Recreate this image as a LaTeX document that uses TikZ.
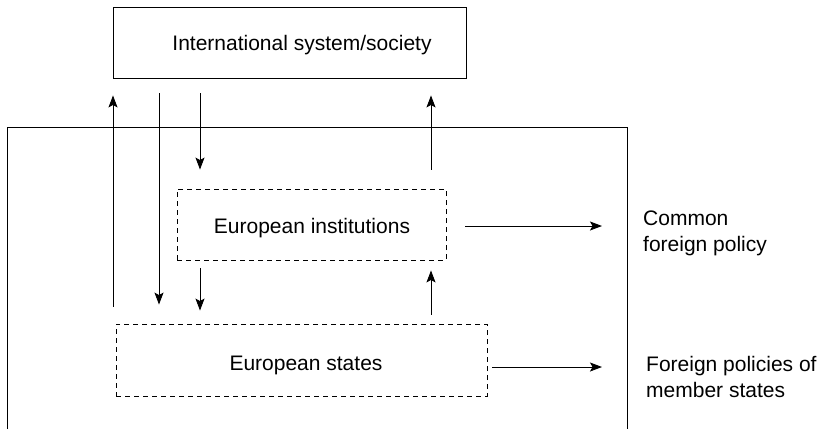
\documentclass[tikz,border=0pt]{standalone}
\usepackage{fontspec}
\setmainfont{Liberation Sans}
\usetikzlibrary{arrows.meta}
\tikzset{
  box/.style={draw, line width=0.9pt, inner sep=0pt},
  dbox/.style={draw, line width=0.9pt, inner sep=0pt, dash pattern=on 5pt off 4pt},
  lbl/.style={inner sep=0pt, font=\fontsize{21}{26}\selectfont},
  arr/.style={line width=0.9pt, -{Stealth[length=12pt,width=9pt,inset=2.5pt]}}
}
\begin{document}
\begin{tikzpicture}[x=1pt,y=-1pt]
  \useasboundingbox (0,0) rectangle (823,429);
  % outer frame, open at the bottom
  \draw[line width=0.9pt] (7,429) |- (627,127) -- (627,429);
  % boxes
  \node[box, minimum width=353pt, minimum height=71pt] (intl) at (289.5,42.5) {};
  \node[lbl, anchor=base] (intltxt) at (302,50) {International system/society};
  \node[dbox, minimum width=269pt, minimum height=71pt] (inst) at (311.5,224.5) {};
  \node[lbl, anchor=base] (insttxt) at (312,233) {European institutions};
  \node[dbox, minimum width=371pt, minimum height=72pt] (states) at (301.5,360) {};
  \node[lbl, anchor=base] (statestxt) at (306,370) {European states};
  % outputs
  \node[lbl, anchor=west, align=left] (cfp) at (643,233) {Common\\foreign policy};
  \node[lbl, anchor=west, align=left] (fpm) at (646,377) {Foreign policies of\\member states};
  \coordinate (xa) at (113,0);
  \coordinate (xb) at (159,0);
  \coordinate (xc) at (200,0);
  \coordinate (xd) at (431,0);
  \coordinate (cfpend) at (602,226);
  \coordinate (fpmend) at (602,367);
  % vertical arrows
  \draw[arr, shorten <=17pt, shorten >=17pt] (xa |- states.north) -- (xa |- intl.south);
  \draw[arr, shorten <=15pt, shorten >=19pt] (xb |- intl.south) -- (xb |- states.north);
  \draw[arr, shorten <=15pt, shorten >=19pt] (xc |- intl.south) -- (xc |- inst.north);
  \draw[arr, shorten <=8pt, shorten >=13pt] (xc |- inst.south) -- (xc |- states.north);
  \draw[arr, shorten <=9pt, shorten >=10pt] (xd |- states.north) -- (xd |- inst.south);
  \draw[arr, shorten <=19pt, shorten >=17pt] (xd |- inst.north) -- (xd |- intl.south);
  % horizontal arrows
  \draw[arr, shorten <=19pt] (inst.east |- cfpend) -- (cfpend);
  \draw[arr, shorten <=5pt] (states.east |- fpmend) -- (fpmend);
\end{tikzpicture}
\end{document}
